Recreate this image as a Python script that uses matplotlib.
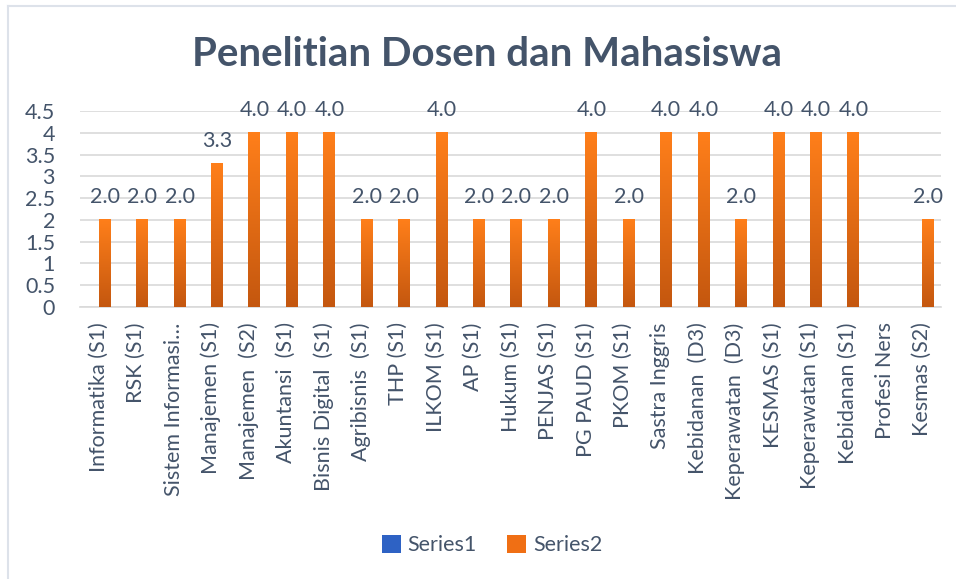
import numpy as np
import matplotlib
matplotlib.use('Agg')
import matplotlib.pyplot as plt
from matplotlib.colors import LinearSegmentedColormap
from matplotlib.lines import Line2D

plt.rcParams['font.family'] = ['Lato', 'DejaVu Sans']

# data
prodi = ['Informatika (S1)', 'RSK (S1)', 'Sistem Informasi…', 'Manajemen (S1)',
         'Manajemen  (S2)', 'Akuntansi  (S1)', 'Bisnis Digital  (S1)', 'Agribisnis  (S1)',
         'THP (S1)', 'ILKOM (S1)', 'AP (S1)', 'Hukum (S1)', 'PENJAS (S1)', 'PG PAUD (S1)',
         'PKOM (S1)', 'Sastra Inggris', 'Kebidanan  (D3)', 'Keperawatan  (D3)', 'KESMAS (S1)',
         'Keperawatan (S1)', 'Kebidanan (S1)', 'Profesi Ners', 'Kesmas (S2)']
series1 = [np.nan] * len(prodi)
series2 = [2.0, 2.0, 2.0, 3.3, 4.0, 4.0, 4.0, 2.0, 2.0, 4.0, 2.0, 2.0, 2.0, 4.0,
           2.0, 4.0, 4.0, 2.0, 4.0, 4.0, 4.0, np.nan, 2.0]

txt = '#44546A'
grid_c = '#D9D9D9'
orange_top, orange_bot = '#FF7F1A', '#C4570F'
fs = 15.5

fig = plt.figure(figsize=(9.56, 5.79), dpi=100)
ax = fig.add_axes([80/956, 1-307/579, (941-80)/956, (307-111)/579])

x = np.arange(len(prodi))
w = 0.32
b1 = ax.bar(x - w/2, series1, w, color='#2E62C4', label='Series1')
b2 = ax.bar(x + w/2, series2, w, color='#F06F14', label='Series2')

# vertical gradient fill for the orange bars
cmap = LinearSegmentedColormap.from_list('org', [orange_bot, orange_top])
grad = np.linspace(1, 0, 256).reshape(-1, 1)
for p in b2.patches:
    h = p.get_height()
    if np.isnan(h):
        continue
    x0 = p.get_x()
    ax.imshow(grad, extent=[x0, x0 + p.get_width(), 0, h], aspect='auto',
              cmap=cmap, vmin=0, vmax=1, zorder=3)

labels = ['' if np.isnan(v) else f'{v:.1f}' for v in series2]
ax.bar_label(b2, labels=labels, padding=9, color=txt, fontsize=fs)

ax.set_xlim(-0.5, len(prodi) - 0.5)
ax.set_ylim(0, 4.5)
ax.set_yticks(np.arange(0, 4.51, 0.5))
ax.set_yticklabels(['0', '0.5', '1', '1.5', '2', '2.5', '3', '3.5', '4', '4.5'])
ax.set_xticks(x)
ax.set_xticklabels(prodi, rotation=90)
ax.tick_params(axis='both', length=0, colors=txt, labelsize=fs)
ax.tick_params(axis='y', pad=18)
ax.tick_params(axis='x', pad=11)
ax.yaxis.grid(True, color=grid_c, linewidth=1.2)
ax.set_axisbelow(True)
for s in ['top', 'right', 'left']:
    ax.spines[s].set_visible(False)
ax.spines['bottom'].set_color(grid_c)
ax.spines['bottom'].set_linewidth(1.2)

fig.text(487/956, 1-55/579, 'Penelitian Dosen dan Mahasiswa', ha='center', va='center',
         fontsize=29, fontweight='bold', color=txt)

leg = fig.legend(handles=[b1, b2], loc='center', bbox_to_anchor=(492/956, 1-545/579),
                 ncol=2, frameon=False, fontsize=fs, handlelength=0.9, handleheight=0.9,
                 columnspacing=1.4, handletextpad=0.3)
for t in leg.get_texts():
    t.set_color(txt)

# chart border
fig.add_artist(Line2D([8/956, 8/956], [0, 1-6/579], color='#DDE2EA', linewidth=1.5))
fig.add_artist(Line2D([8/956, 1], [1-6/579, 1-6/579], color='#DDE2EA', linewidth=1.5))

fig.savefig('out.png', dpi=100)
